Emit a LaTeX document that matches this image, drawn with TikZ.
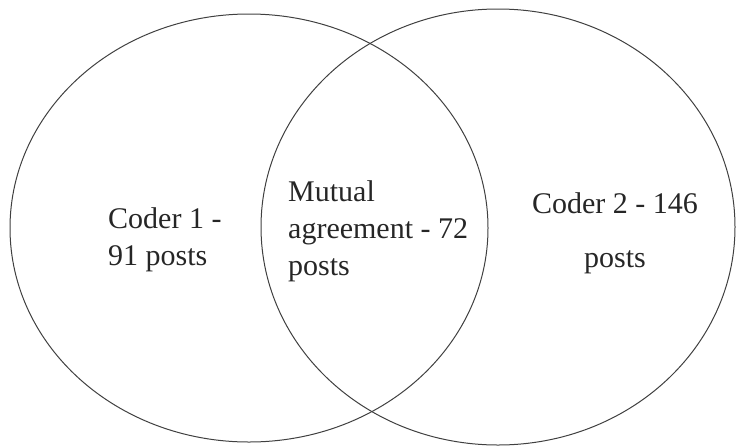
\documentclass[tikz,border=0pt]{standalone}
\usepackage{fontspec}
\setmainfont{Liberation Serif}
\usepackage{tikz}

\begin{document}
\begin{tikzpicture}[x=1pt,y=-1pt,
  venntext/.style={anchor=base west, align=left, inner sep=0pt, text=black!85,
    font=\fontsize{30}{37}\selectfont}]
\useasboundingbox (0,0) rectangle (738,447);
\draw [line width=1pt, color=black!75] (249,228) ellipse (239 and 214);
\draw [line width=1pt, color=black!75] (498,227) ellipse (237 and 218);
\node[venntext] (coderone) at (108,265) {Coder 1 -\\91 posts};
\node[venntext] (mutual) at (288,275) {Mutual\\agreement - 72\\posts};
\node[venntext, align=center, anchor=base] (codertwo) at (615,267) {Coder 2 - 146\\[17pt]posts};
\end{tikzpicture}
\end{document}
